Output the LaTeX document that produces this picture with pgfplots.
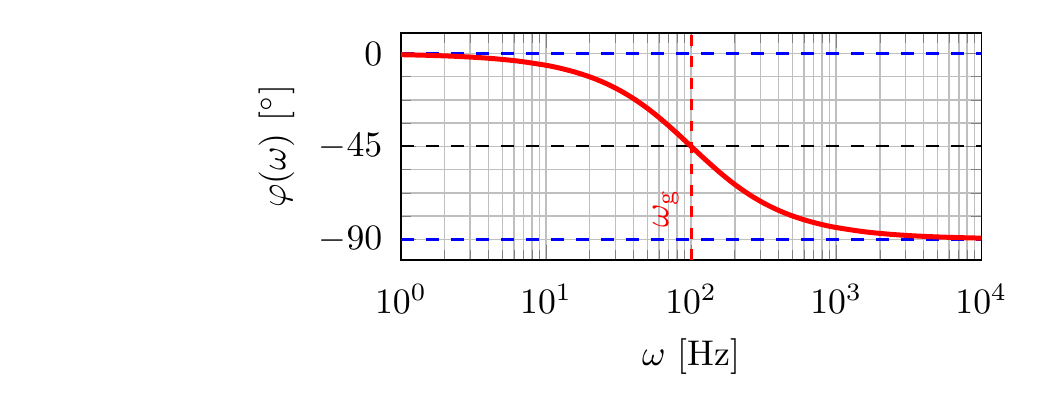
\documentclass[border=0pt]{standalone}
\usepackage{pgfplots}
\pgfplotsset{compat=1.18}

\begin{document}
\begin{tikzpicture}
    % keep the page as large as the original figure
    \useasboundingbox (-112.3pt,-39.8pt) rectangle (178.4pt,72.8pt);
    \begin{axis}[
        at={(0,0)}, anchor=south west,
        scale only axis,
        width  = 162.5pt,
        height = 63.6pt,
        xmode = log,
        xmin = 1, xmax = 10000,
        ymin = -100, ymax = 10,
        ytick = {0,-45,-90},
        minor y tick num = 3,
        grid = both,
        xticklabel style = {yshift=-3.4pt},
        yticklabel style = {xshift=-1.7pt},
        xlabel = {$\omega$ [Hz]},
        ylabel = {$\varphi(\omega)$ $[^\circ]$},
    ]

      \addplot[blue, line width=1pt, dash pattern=on 3.7pt off 3.3pt] coordinates { (1,0) (10000,0) };
      \addplot[blue, line width=1pt, dash pattern=on 3.7pt off 3.3pt] coordinates { (1,-90) (10000,-90) };
      \addplot[black, semithick, dash pattern=on 3.7pt off 3.3pt] coordinates { (1,-45) (10000,-45) };

      \addplot[red, line width=1.4pt, smooth, mark=none] coordinates {
        (1,-0.573) (1.585,-0.908) (2.512,-1.439) (3.981,-2.280) (6.310,-3.611)
        (10,-5.711) (12.59,-7.176) (15.85,-9.007) (19.95,-11.28) (25.12,-14.10)
        (31.62,-17.55) (39.81,-21.71) (50.12,-26.62) (63.10,-32.25) (79.43,-38.46)
        (100,-45) (125.9,-51.54) (158.5,-57.75) (199.5,-63.38) (251.2,-68.29)
        (316.2,-72.45) (398.1,-75.90) (501.2,-78.72) (631.0,-80.99) (794.3,-82.82)
        (1000,-84.29) (1585,-86.39) (2512,-87.72) (3981,-88.56) (6310,-89.09)
        (10000,-89.43)
      };

      \addplot[red, thick, dashed] coordinates { (100,-100) (100,10) };
      \node[red, rotate=90, anchor=south] at (axis cs:100,-75) {$\omega_\mathrm{g}$};

    \end{axis}
\end{tikzpicture}
\end{document}
